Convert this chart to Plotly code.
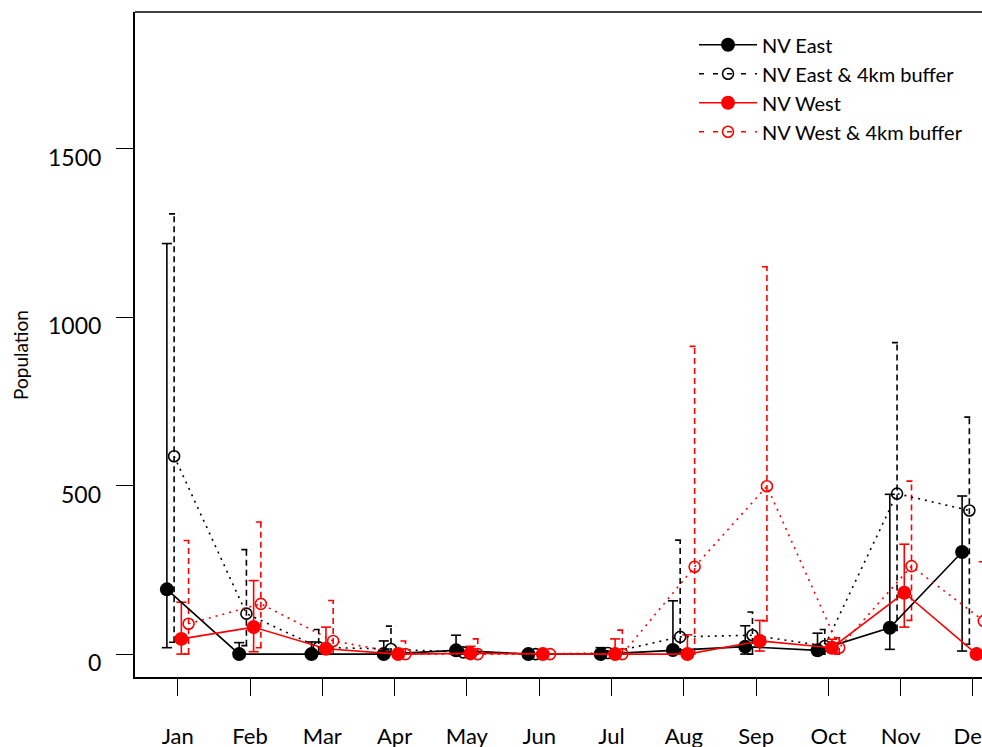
import plotly.graph_objects as go

months = ["Jan", "Feb", "Mar", "Apr", "May", "Jun", "Jul", "Aug", "Sep", "Oct", "Nov", "Dec"]
y_ticks = [0, 500, 1000, 1500]

east = [192, 0, 0, 0, 11, 0, 0, 12, 22, 11, 78, 303]
east_lo = [19, 0, 0, 0, 0, 0, 0, 0, 0, 0, 14, 9]
east_hi = [1218, 34, 36, 39, 56, 0, 19, 158, 84, 62, 474, 469]

east_buf = [587, 120, 20, 15, 5, 0, 3, 51, 56, 24, 476, 426]
east_buf_lo = [35, 25, 0, 0, 0, 0, 0, 0, 0, 0, 70, 29]
east_buf_hi = [1306, 310, 73, 83, 15, 0, 10, 338, 125, 73, 924, 703]

west = [45, 80, 16, 0, 2, 0, 0, 0, 39, 19, 182, 0]
west_lo = [0, 7, 0, 0, 0, 0, 0, 0, 9, 5, 80, 0]
west_hi = [154, 218, 80, 10, 23, 0, 45, 57, 100, 44, 326, 5]

west_buf = [90, 149, 39, 0, 0, 0, 0, 259, 498, 19, 261, 98]
west_buf_lo = [0, 19, 0, 0, 0, 0, 0, 0, 98, 0, 100, 0]
west_buf_hi = [337, 392, 159, 39, 45, 0, 71, 913, 1149, 48, 513, 274]

FONT = "Lato"
series = [
    dict(name="NV East", y=east, lo=east_lo, hi=east_hi, off=-0.15, color="black",
         filled=True),
    dict(name="NV East & 4km buffer", y=east_buf, lo=east_buf_lo, hi=east_buf_hi, off=-0.05,
         color="black", filled=False),
    dict(name="NV West", y=west, lo=west_lo, hi=west_hi, off=0.05, color="red", filled=True),
    dict(name="NV West & 4km buffer", y=west_buf, lo=west_buf_lo, hi=west_buf_hi, off=0.15,
         color="red", filled=False),
]

fig = go.Figure()
capw = 0.07
for s in series:
    xs = [i + 1 + s["off"] for i in range(len(months))]
    ex, ey = [], []
    for x, lo, hi in zip(xs, s["lo"], s["hi"]):
        ex += [x, x, None, x - capw, x + capw, None, x - capw, x + capw, None]
        ey += [lo, hi, None, hi, hi, None, lo, lo, None]
    fig.add_trace(go.Scatter(
        x=ex, y=ey, mode="lines", showlegend=False, hoverinfo="skip",
        line=dict(color=s["color"], width=1.6, dash="solid" if s["filled"] else "6px,4px")))
for s in series:
    xs = [i + 1 + s["off"] for i in range(len(months))]
    if s["filled"]:
        marker = dict(symbol="circle", size=14, color=s["color"])
        line = dict(color=s["color"], width=1.6)
    else:
        marker = dict(symbol="circle-open", size=11, color=s["color"], line=dict(width=1.6))
        line = dict(color=s["color"], width=1.6, dash="2px,5px")
    fig.add_trace(go.Scatter(x=xs, y=s["y"], mode="lines+markers", marker=marker, line=line,
                             showlegend=False))
    fig.add_trace(go.Scatter(
        x=[None], y=[None], mode="lines+markers", name=s["name"], marker=marker,
        line=dict(color=s["color"], width=1.6, dash="solid" if s["filled"] else "5px,9px")))

annotations = [dict(text="Population", xref="paper", yref="paper", x=-0.136, y=0.484,
                    xanchor="center", yanchor="middle",
                    textangle=-90, showarrow=False, font=dict(size=19, family=FONT))]
for v in y_ticks:
    annotations.append(dict(text=str(v), xref="paper", yref="y", x=-0.038, y=v, yshift=-8,
                            xanchor="right", yanchor="middle", showarrow=False,
                            font=dict(size=23, family=FONT)))

fig.update_layout(
    width=982, height=747,
    margin=dict(l=135, r=0, t=12, b=70, autoexpand=False),
    plot_bgcolor="white", paper_bgcolor="white",
    font=dict(family=FONT, size=20, color="black"),
    xaxis=dict(range=[0.409, 12.125], tickvals=list(range(1, 13)), ticktext=months,
               automargin=False, ticklabeloverflow="allow",
               showgrid=False, zeroline=False, showline=True, linecolor="black", linewidth=1.5,
               ticks="outside", ticklen=17, tickwidth=1.4, tickcolor="black",
               ticklabelstandoff=22, tickfont=dict(size=22, family=FONT)),
    yaxis=dict(range=[-68, 1905], tickvals=y_ticks, showticklabels=False, automargin=False,
               showgrid=False, zeroline=False, showline=True, linecolor="black", linewidth=1.5,
               ticks="outside", ticklen=17, tickwidth=1.4, tickcolor="black"),
    legend=dict(x=0.66, y=0.98, xanchor="left", yanchor="top", bgcolor="rgba(0,0,0,0)",
                font=dict(size=20, family=FONT), itemwidth=58, tracegroupgap=0),
    shapes=[dict(type="line", xref="paper", yref="paper", x0=0, x1=1, y0=1, y1=1,
                 line=dict(color="black", width=1.5))],
    annotations=annotations,
)

fig.write_html("out.html", config={"displayModeBar": False},
               post_script="document.body.style.margin='0px';")
